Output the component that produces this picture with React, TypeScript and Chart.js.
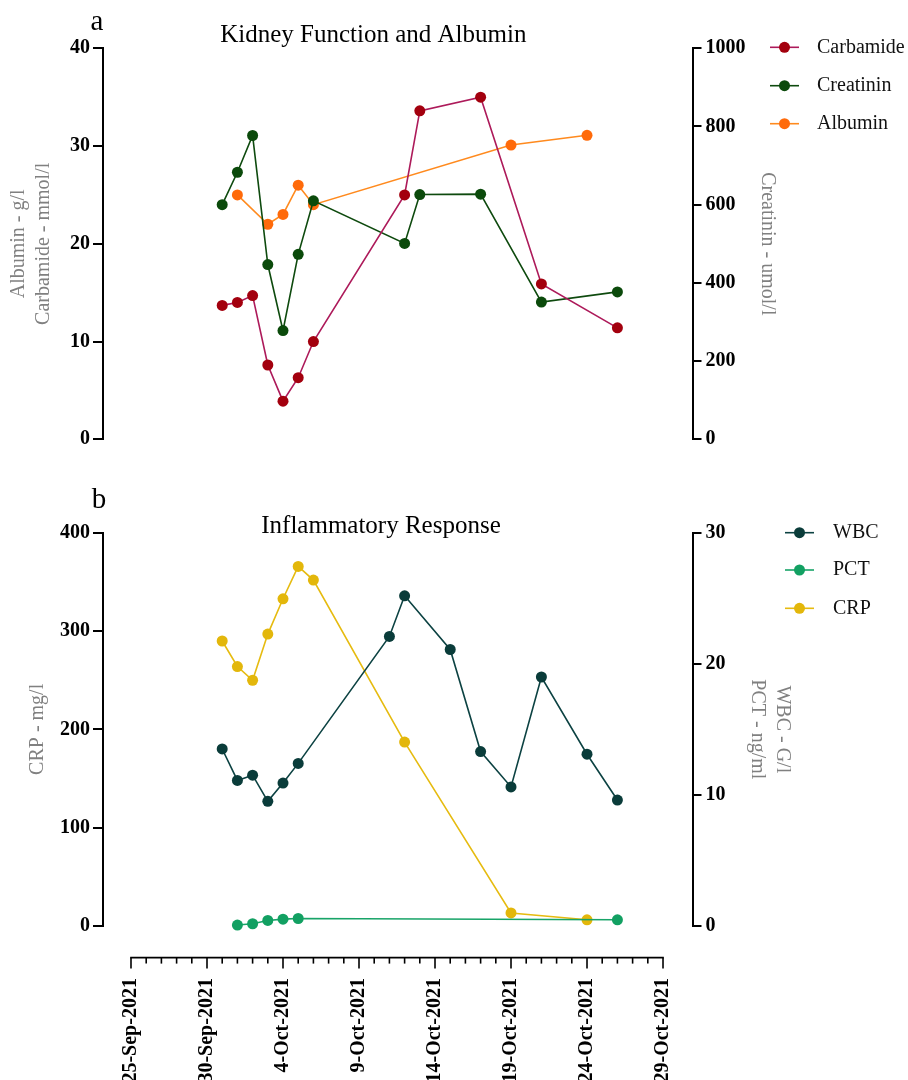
import React, { useEffect, useRef } from 'react';
import { Chart, registerables } from 'chart.js';
Chart.register(...registerables);

const FONT = "'Liberation Serif', 'Times New Roman', serif";

// ---- Panel a: Kidney Function and Albumin (x = days since 25-Sep-2021) ----
const carbamideDays = [6, 7, 8, 9, 10, 11, 12, 18, 19, 23, 27, 32];
const carbamideValues = [13.7, 14.0, 14.7, 7.6, 3.9, 6.3, 10.0, 25.0, 33.6, 35.0, 15.9, 11.4];
const creatininDays = [6, 7, 8, 9, 10, 11, 12, 18, 19, 23, 27, 32];
const creatininValues = [600, 683, 777, 447, 278, 473, 610, 501, 626, 627, 351, 377];
const albuminDays = [7, 9, 10, 11, 12, 25, 30];
const albuminValues = [25, 22, 23, 26, 24, 30.1, 31.1];

// ---- Panel b: Inflammatory Response ----
const wbcDays = [6, 7, 8, 9, 10, 11, 17, 18, 21, 23, 25, 27, 30, 32];
const wbcValues = [13.5, 11.1, 11.5, 9.5, 10.9, 12.4, 22.1, 25.2, 21.1, 13.3, 10.6, 19.0, 13.1, 9.6];
const pctDays = [7, 8, 9, 10, 11, 32];
const pctValues = [0.05, 0.15, 0.4, 0.5, 0.55, 0.45];
const crpDays = [6, 7, 8, 9, 10, 11, 12, 18, 25, 30];
const crpValues = [290, 264, 250, 297, 333, 366, 352, 187, 13, 6];

// ---- Date axis ----
const dateTickDays = [0, 5, 10, 15, 20, 25, 30, 35];
const dateTickLabels = [
  '25-Sep-2021', '30-Sep-2021', '4-Oct-2021', '9-Oct-2021',
  '14-Oct-2021', '19-Oct-2021', '24-Oct-2021', '29-Oct-2021',
];

const X_MIN = -1.842;
const X_MAX = 36.94;

function ds(label: string, days: number[], values: number[], line: string, point: string, axis: string) {
  return {
    label,
    data: days.map((d, i) => ({ x: d, y: values[i] })),
    borderColor: line,
    backgroundColor: point,
    pointBackgroundColor: point,
    pointBorderColor: point,
    pointRadius: 5.5,
    pointBorderWidth: 0,
    borderWidth: 1.6,
    yAxisID: axis,
    tension: 0,
    clip: false as any,
  };
}

function yAxis(position: string, min: number, max: number, step: number, title: any, titlePad: number, width: number) {
  return {
    type: 'linear',
    position,
    min,
    max,
    ticks: {
      stepSize: step,
      color: '#000',
      font: { family: FONT, size: 20, weight: 'bold' },
      padding: position === 'left' ? 3 : 4,
      callback: (v: any) => String(v),
    },
    grid: {
      display: true,
      drawOnChartArea: false,
      drawTicks: true,
      tickLength: position === 'left' ? 10 : 9,
      color: '#000',
      lineWidth: 2,
    },
    border: { display: true, color: '#000', width: 2 },
    title: {
      display: true,
      text: title,
      color: '#808080',
      font: { family: FONT, size: 20, lineHeight: 1.25 },
      padding: { top: titlePad, bottom: 0 },
    },
    afterFit: (s: any) => {
      s.width = width;
    },
  };
}

function decorPlugin(opts: {
  title: string; titleX: number; titleY: number;
  letter: string; letterX: number; letterY: number;
  legLine: [number, number]; legText: number; legY: number[];
  dateAxisY?: number;
}) {
  return {
    id: 'decor',
    afterDraw(chart: any) {
      const ctx = chart.ctx as CanvasRenderingContext2D;
      ctx.save();
      ctx.fillStyle = '#000';
      ctx.textAlign = 'center';
      ctx.textBaseline = 'middle';
      ctx.font = `25px ${FONT}`;
      ctx.fillText(opts.title, opts.titleX, opts.titleY);
      ctx.font = `29px ${FONT}`;
      ctx.fillText(opts.letter, opts.letterX, opts.letterY);

      // legend
      const dsets = chart.data.datasets;
      dsets.forEach((d: any, i: number) => {
        const y = opts.legY[i];
        ctx.strokeStyle = d.borderColor;
        ctx.lineWidth = 1.6;
        ctx.beginPath();
        ctx.moveTo(opts.legLine[0], y);
        ctx.lineTo(opts.legLine[1], y);
        ctx.stroke();
        ctx.fillStyle = d.pointBackgroundColor;
        ctx.beginPath();
        ctx.arc((opts.legLine[0] + opts.legLine[1]) / 2, y, 5.5, 0, Math.PI * 2);
        ctx.fill();
        ctx.fillStyle = '#111';
        ctx.font = `20px ${FONT}`;
        ctx.textAlign = 'left';
        ctx.fillText(d.label, opts.legText, y);
      });

      // date axis
      if (opts.dateAxisY !== undefined) {
        const xs = chart.scales.x;
        const y0 = opts.dateAxisY;
        ctx.strokeStyle = '#000';
        ctx.lineWidth = 1.6;
        ctx.beginPath();
        ctx.moveTo(xs.getPixelForValue(0) - 0.8, y0);
        ctx.lineTo(xs.getPixelForValue(35) + 0.8, y0);
        ctx.stroke();
        for (let d = 0; d <= 35; d++) {
          const px = xs.getPixelForValue(d);
          const len = d % 5 === 0 ? 11 : 6;
          ctx.beginPath();
          ctx.moveTo(px, y0);
          ctx.lineTo(px, y0 + len);
          ctx.stroke();
        }
        ctx.fillStyle = '#000';
        ctx.font = `bold 20px ${FONT}`;
        ctx.textAlign = 'right';
        ctx.textBaseline = 'middle';
        dateTickDays.forEach((d, i) => {
          const px = xs.getPixelForValue(d);
          ctx.save();
          ctx.translate(px, y0 + 20.5);
          ctx.rotate(-Math.PI / 2);
          ctx.fillText(dateTickLabels[i], 0, 0);
          ctx.restore();
        });
      }
      ctx.restore();
    },
  };
}

const xScale = {
  type: 'linear',
  min: X_MIN,
  max: X_MAX,
  display: false,
};

export default function App() {
  const topRef = useRef<HTMLCanvasElement>(null);
  const botRef = useRef<HTMLCanvasElement>(null);

  useEffect(() => {
    const c1 = new Chart(topRef.current as HTMLCanvasElement, {
      type: 'line',
      data: {
        datasets: [
          ds('Carbamide', carbamideDays, carbamideValues, '#ad1a5a', '#a3000e', 'yL'),
          ds('Creatinin', creatininDays, creatininValues, '#0e4a0e', '#0b4a0b', 'yR'),
          ds('Albumin', albuminDays, albuminValues, '#ff8a1e', '#ff6a0a', 'yL'),
        ] as any,
      },
      options: {
        responsive: false,
        animation: false,
        devicePixelRatio: 1,
        events: [],
        layout: { padding: { left: 0, top: 48.3, right: 128.5, bottom: 30.7 } },
        plugins: { legend: { display: false }, tooltip: { enabled: false }, title: { display: false } },
        scales: {
          x: xScale as any,
          yL: yAxis('left', 0, 40, 10, ['Albumin - g/l', 'Carbamide - mmol/l'], 5.8, 103) as any,
          yR: yAxis('right', 0, 1000, 200, 'Creatinin - umol/l', 0, 87) as any,
        },
      },
      plugins: [
        decorPlugin({
          title: 'Kidney Function and Albumin', titleX: 373.3, titleY: 35,
          letter: 'a', letterX: 97, letterY: 22,
          legLine: [770, 799], legText: 817, legY: [47.3, 85.7, 123.7],
        }) as any,
      ],
    });

    const c2 = new Chart(botRef.current as HTMLCanvasElement, {
      type: 'line',
      data: {
        datasets: [
          ds('WBC', wbcDays, wbcValues, '#0c4242', '#0a3c3a', 'yR'),
          ds('PCT', pctDays, pctValues, '#18a468', '#12a062', 'yR'),
          ds('CRP', crpDays, crpValues, '#e6bb10', '#e3b70b', 'yL'),
        ] as any,
      },
      options: {
        responsive: false,
        animation: false,
        devicePixelRatio: 1,
        events: [],
        layout: { padding: { left: 0, top: 63, right: 113.5, bottom: 154.3 } },
        plugins: { legend: { display: false }, tooltip: { enabled: false }, title: { display: false } },
        scales: {
          x: xScale as any,
          yL: yAxis('left', 0, 400, 100, 'CRP - mg/l', 24.8, 103) as any,
          yR: yAxis('right', 0, 30, 10, ['WBC - G/l', 'PCT - ng/ml'], 0, 102) as any,
        },
      },
      plugins: [
        decorPlugin({
          title: 'Inflammatory Response', titleX: 381, titleY: 56,
          letter: 'b', letterX: 99, letterY: 30,
          legLine: [785, 814], legText: 833, legY: [62.7, 100, 138.3],
          dateAxisY: 487.6,
        }) as any,
      ],
    });

    return () => {
      c1.destroy();
      c2.destroy();
    };
  }, []);

  return (
    <div style={{ position: 'absolute', left: 0, top: 0, width: 908, height: 1080, background: '#fff', overflow: 'hidden' }}>
      <canvas ref={topRef} width={908} height={470} style={{ position: 'absolute', left: 0, top: 0 }} />
      <canvas ref={botRef} width={908} height={610} style={{ position: 'absolute', left: 0, top: 470 }} />
    </div>
  );
}
